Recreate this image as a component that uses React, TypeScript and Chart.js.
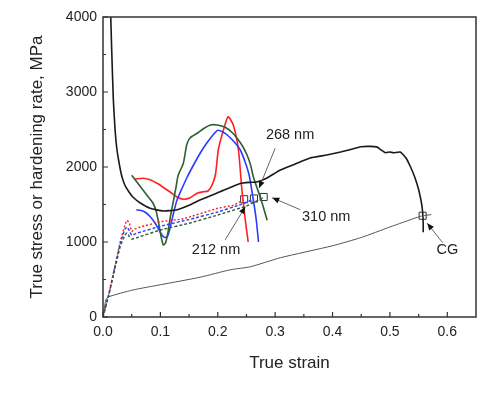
import React, { useEffect, useRef } from "react";
import { Chart, registerables } from "chart.js";

Chart.register(...registerables);

// ---- Axis ticks ----
const xMajorTicks = [0, 0.1, 0.2, 0.3, 0.4, 0.5, 0.6];
const xMinorTicks = [0.05, 0.15, 0.25, 0.35, 0.45, 0.55];
const yMajorTicks = [0, 1000, 2000, 3000, 4000];
const yMinorTicks = [500, 1500, 2500, 3500];

// ---- CG hardening rate (black) ----
const cgRateStrain = [0.013, 0.015, 0.018, 0.021, 0.024, 0.027, 0.032, 0.038, 0.045, 0.052, 0.065, 0.082, 0.105, 0.129, 0.15, 0.169, 0.204, 0.239, 0.255, 0.268, 0.285, 0.309, 0.335, 0.361, 0.39, 0.414, 0.435, 0.449, 0.465, 0.478, 0.485, 0.492, 0.5, 0.506, 0.518, 0.528, 0.536, 0.543, 0.55, 0.555, 0.557, 0.558, 0.558];
const cgRateValue = [4150, 3600, 2900, 2500, 2250, 2100, 1900, 1760, 1670, 1600, 1520, 1450, 1413, 1430, 1490, 1560, 1670, 1780, 1795, 1800, 1850, 1960, 2040, 2120, 2160, 2200, 2240, 2270, 2275, 2265, 2225, 2190, 2200, 2190, 2200, 2120, 2000, 1870, 1700, 1520, 1400, 1250, 1130];

// ---- CG true stress (thin grey) ----
const cgStressStrain = [0, 0.005, 0.01, 0.052, 0.1, 0.169, 0.222, 0.257, 0.309, 0.4, 0.45, 0.5, 0.548, 0.557, 0.572];
const cgStressValue = [0, 230, 270, 360, 430, 530, 630, 670, 790, 950, 1060, 1200, 1330, 1350, 1365];

// ---- 212 nm (red) ----
const red212RateStrain = [0.056, 0.07, 0.082, 0.095, 0.105, 0.118, 0.129, 0.14, 0.152, 0.164, 0.175, 0.183, 0.19, 0.196, 0.201, 0.209, 0.218, 0.227, 0.236, 0.242, 0.248, 0.253];
const red212RateValue = [1840, 1850, 1830, 1780, 1730, 1660, 1600, 1570, 1590, 1650, 1670, 1680, 1760, 1900, 2230, 2470, 2670, 2560, 2230, 1700, 1290, 1000];
const red212StressStrain = [0, 0.01, 0.02, 0.03, 0.037, 0.042, 0.046, 0.05, 0.055, 0.065, 0.1, 0.14, 0.2, 0.227, 0.245];
const red212StressValue = [0, 300, 650, 1000, 1200, 1290, 1250, 1140, 1170, 1200, 1270, 1310, 1450, 1490, 1560];

// ---- 268 nm (blue) ----
const blue268RateStrain = [0.058, 0.066, 0.073, 0.082, 0.091, 0.097, 0.103, 0.108, 0.112, 0.116, 0.12, 0.124, 0.129, 0.138, 0.147, 0.158, 0.169, 0.18, 0.192, 0.2, 0.208, 0.216, 0.228, 0.239, 0.248, 0.255, 0.262, 0.267, 0.271];
const blue268RateValue = [1430, 1420, 1400, 1340, 1250, 1170, 1090, 1060, 1070, 1160, 1290, 1420, 1560, 1720, 1870, 2030, 2180, 2310, 2430, 2490, 2470, 2430, 2340, 2230, 2060, 1880, 1560, 1300, 1000];
const blue268StressStrain = [0, 0.01, 0.02, 0.03, 0.038, 0.042, 0.046, 0.05, 0.06, 0.1, 0.15, 0.2, 0.24, 0.262];
const blue268StressValue = [0, 300, 640, 980, 1170, 1200, 1150, 1090, 1120, 1210, 1300, 1400, 1500, 1570];

// ---- 310 nm (green) ----
const green310RateStrain = [0.05, 0.06, 0.07, 0.078, 0.087, 0.093, 0.097, 0.101, 0.105, 0.109, 0.113, 0.117, 0.122, 0.127, 0.131, 0.14, 0.146, 0.152, 0.164, 0.175, 0.187, 0.199, 0.213, 0.225, 0.234, 0.243, 0.251, 0.257, 0.262, 0.268, 0.274, 0.28, 0.286];
const green310RateValue = [1890, 1790, 1690, 1610, 1520, 1400, 1250, 1080, 960, 990, 1120, 1320, 1520, 1720, 1890, 2050, 2300, 2390, 2450, 2510, 2560, 2560, 2530, 2460, 2380, 2280, 2160, 2030, 1870, 1730, 1600, 1450, 1290];
const green310StressStrain = [0, 0.01, 0.02, 0.03, 0.038, 0.042, 0.046, 0.05, 0.06, 0.1, 0.15, 0.2, 0.25, 0.279];
const green310StressValue = [0, 290, 620, 940, 1090, 1120, 1070, 1040, 1060, 1160, 1250, 1360, 1480, 1590];

// ---- fracture markers ----
const markerStrain = [0.246, 0.263, 0.28, 0.557];
const markerValue = [1570, 1580, 1600, 1350];

// ---- annotations (data coordinates) ----
const noteLabels = ["212 nm", "268 nm", "310 nm", "CG"];
const noteTextX = [0.197, 0.326, 0.389, 0.6];
const noteTextY = [890, 2430, 1330, 890];
const noteFromX = [0.213, 0.3, 0.344, 0.592];
const noteFromY = [1030, 2250, 1430, 990];
const noteToX = [0.248, 0.272, 0.295, 0.565];
const noteToY = [1470, 1720, 1590, 1250];

const pts = (xs: number[], ys: number[]) => xs.map((x, i) => ({ x, y: ys[i] }));

const FONT = "'Liberation Sans', Arial, sans-serif";

const overlay = {
  id: "overlay",
  afterDatasetsDraw(chart: any) {
    const { ctx, chartArea: a, scales } = chart;
    const x = scales.x;
    const y = scales.y;
    ctx.save();
    ctx.strokeStyle = "#333";
    ctx.lineWidth = 1.5;
    ctx.strokeRect(a.left, a.top, a.right - a.left, a.bottom - a.top);
    ctx.lineWidth = 1.2;
    ctx.beginPath();
    xMajorTicks.forEach((v) => {
      const p = x.getPixelForValue(v);
      ctx.moveTo(p, a.bottom);
      ctx.lineTo(p, a.bottom - 5);
    });
    xMinorTicks.forEach((v) => {
      const p = x.getPixelForValue(v);
      ctx.moveTo(p, a.bottom);
      ctx.lineTo(p, a.bottom - 3);
    });
    yMajorTicks.forEach((v) => {
      const p = y.getPixelForValue(v);
      ctx.moveTo(a.left, p);
      ctx.lineTo(a.left + 5, p);
    });
    yMinorTicks.forEach((v) => {
      const p = y.getPixelForValue(v);
      ctx.moveTo(a.left, p);
      ctx.lineTo(a.left + 3, p);
    });
    ctx.stroke();

    noteLabels.forEach((label, i) => {
      const fx = x.getPixelForValue(noteFromX[i]);
      const fy = y.getPixelForValue(noteFromY[i]);
      const tx = x.getPixelForValue(noteToX[i]);
      const ty = y.getPixelForValue(noteToY[i]);
      ctx.strokeStyle = "#666";
      ctx.lineWidth = 1;
      ctx.beginPath();
      ctx.moveTo(fx, fy);
      ctx.lineTo(tx, ty);
      ctx.stroke();
      const ang = Math.atan2(ty - fy, tx - fx);
      const L = 7;
      const W = 3;
      ctx.fillStyle = "#111";
      ctx.beginPath();
      ctx.moveTo(tx, ty);
      ctx.lineTo(tx - L * Math.cos(ang) + W * Math.sin(ang), ty - L * Math.sin(ang) - W * Math.cos(ang));
      ctx.lineTo(tx - L * Math.cos(ang) - W * Math.sin(ang), ty - L * Math.sin(ang) + W * Math.cos(ang));
      ctx.closePath();
      ctx.fill();
      ctx.fillStyle = "#222";
      ctx.font = `14.5px ${FONT}`;
      ctx.textAlign = "center";
      ctx.textBaseline = "middle";
      ctx.fillText(label, x.getPixelForValue(noteTextX[i]), y.getPixelForValue(noteTextY[i]));
    });
    ctx.restore();
  },
};

export default function App() {
  const ref = useRef<HTMLCanvasElement>(null);
  useEffect(() => {
    if (!ref.current) return;
    const lineBase = { pointRadius: 0, fill: false, showLine: true };
    const chart = new Chart(ref.current, {
      type: "scatter",
      data: {
        datasets: [
          { ...lineBase, data: pts(cgStressStrain, cgStressValue), borderColor: "#555", borderWidth: 1, tension: 0.2 },
          { ...lineBase, data: pts(green310StressStrain, green310StressValue), borderColor: "#2f5f32", borderWidth: 1.4, borderDash: [3, 2], tension: 0.1 },
          { ...lineBase, data: pts(blue268StressStrain, blue268StressValue), borderColor: "#2a3cff", borderWidth: 1.4, borderDash: [3, 2], tension: 0.1 },
          { ...lineBase, data: pts(red212StressStrain, red212StressValue), borderColor: "#ff2020", borderWidth: 1.4, borderDash: [2, 2], tension: 0.1 },
          { ...lineBase, data: pts(cgRateStrain, cgRateValue), borderColor: "#1a1a1a", borderWidth: 1.6, tension: 0.15 },
          { ...lineBase, data: pts(green310RateStrain, green310RateValue), borderColor: "#2f5f32", borderWidth: 1.6, tension: 0.2 },
          { ...lineBase, data: pts(blue268RateStrain, blue268RateValue), borderColor: "#2a3cff", borderWidth: 1.6, tension: 0.2 },
          { ...lineBase, data: pts(red212RateStrain, red212RateValue), borderColor: "#ff2020", borderWidth: 1.6, tension: 0.2 },
          {
            data: pts(markerStrain, markerValue),
            showLine: false,
            pointStyle: "rect",
            pointRadius: 5,
            pointBackgroundColor: "rgba(0,0,0,0)",
            pointBorderColor: "#333",
            pointBorderWidth: 1,
          },
        ],
      },
      options: {
        animation: false,
        responsive: false,
        events: [],
        layout: { padding: { top: 17, right: 24, left: 0, bottom: 0 } },
        plugins: { legend: { display: false }, tooltip: { enabled: false } },
        scales: {
          x: {
            type: "linear",
            min: 0,
            max: 0.65,
            grid: { display: false, drawTicks: false },
            border: { display: false },
            afterBuildTicks: (s: any) => {
              s.ticks = xMajorTicks.map((v) => ({ value: v }));
            },
            afterFit: (s: any) => {
              s.height = 76;
            },
            ticks: {
              padding: 7,
              color: "#222",
              font: { family: FONT, size: 14 },
              callback: (v: any) => Number(v).toFixed(1),
              maxRotation: 0,
            },
            title: {
              display: true,
              text: "True strain",
              color: "#222",
              font: { family: FONT, size: 17 },
              padding: { top: 0, bottom: 19 },
            },
          },
          y: {
            type: "linear",
            min: 0,
            max: 4000,
            grid: { display: false, drawTicks: false },
            border: { display: false },
            afterBuildTicks: (s: any) => {
              s.ticks = yMajorTicks.map((v) => ({ value: v }));
            },
            afterFit: (s: any) => {
              s.width = 103;
            },
            ticks: {
              padding: 6,
              color: "#222",
              font: { family: FONT, size: 14 },
              callback: (v: any) => String(v),
            },
            title: {
              display: true,
              text: "True stress or hardening rate, MPa",
              color: "#222",
              font: { family: FONT, size: 17 },
              padding: { top: 27, bottom: 0 },
            },
          },
        },
      },
      plugins: [overlay],
    });
    return () => chart.destroy();
  }, []);
  return (
    <div style={{ position: "fixed", left: 0, top: 0, width: 500, height: 393, background: "#fff" }}>
      <canvas ref={ref} width={500} height={393} />
    </div>
  );
}
